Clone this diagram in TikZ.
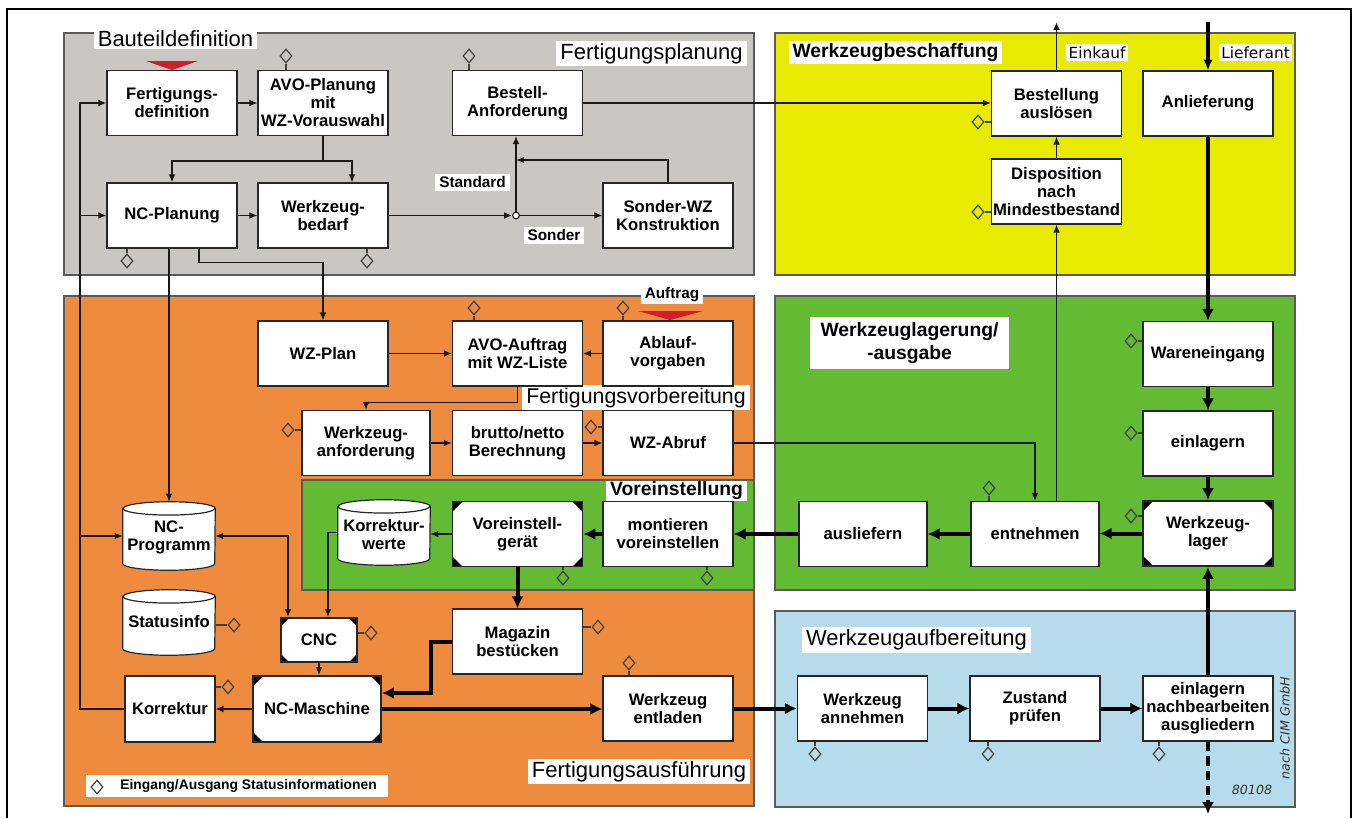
\documentclass[tikz,border=0pt]{standalone}
\usepackage{fontspec}
\setmainfont{Liberation Sans}
\newfontfamily\dejavu{DejaVu Sans}
\usetikzlibrary{arrows.meta,shapes.geometric,calc}
\pgfdeclarelayer{back}
\pgfsetlayers{back,main}
\definecolor{pgray}{RGB}{201,199,196}
\definecolor{pyellow}{RGB}{232,234,0}
\definecolor{porange}{RGB}{238,139,62}
\definecolor{pgreen}{RGB}{98,187,50}
\definecolor{pblue}{RGB}{182,219,234}
\definecolor{tred}{RGB}{210,30,40}
\definecolor{pborder}{RGB}{90,90,90}
\newcommand\octcorners[1]{%
 \fill[black] (path picture bounding box.north west) -- ++(#1,0) -- ++(-#1,-#1) -- cycle;
 \fill[black] (path picture bounding box.north east) -- ++(-#1,0) -- ++(#1,-#1) -- cycle;
 \fill[black] (path picture bounding box.south west) -- ++(#1,0) -- ++(-#1,#1) -- cycle;
 \fill[black] (path picture bounding box.south east) -- ++(-#1,0) -- ++(#1,#1) -- cycle;}
\tikzset{
 panel/.style={draw=pborder, line width=1.1pt},
 ptitle/.style={fill=white, inner xsep=3pt, inner ysep=2pt, font=\fontsize{16.5}{18}\selectfont},
 btitle/.style={fill=white, inner xsep=3pt, inner ysep=2pt, font=\bfseries\fontsize{14.5}{17}\selectfont},
 slabel/.style={fill=white, inner xsep=3pt, inner ysep=2pt, font=\bfseries\fontsize{11.5}{13}\selectfont},
 tlabel/.style={fill=white, inner xsep=2pt, inner ysep=2pt, font=\dejavu\fontsize{11.5}{13}\selectfont},
 pbox/.style={draw=black!85, fill=white, line width=0.9pt, minimum width=97.5pt, minimum height=48.75pt, inner sep=1pt, align=center, font=\bfseries\fontsize{12.5}{13.5}\selectfont},
 octbox/.style={pbox, line width=1.3pt, path picture={\octcorners{#1}}},
 octbox/.default=7.5pt,
 cylbox/.style={minimum width=69pt, minimum height=48.75pt, inner sep=0pt, align=center, font=\bfseries\fontsize{12.5}{13.5}\selectfont},
 cyl/.style={draw=black!85, fill=white, line width=0.9pt},
 dia/.style={diamond, draw=black!75, line width=0.9pt, minimum width=9pt, minimum height=10.5pt, inner sep=0pt},
 stem/.style={draw=black!75, line width=0.8pt},
 thinline/.style={draw=black!90, line width=0.9pt},
 arr/.style={draw=black!90, line width=0.9pt, -{Latex[length=6pt,width=5pt]}},
 arrboth/.style={draw=black!90, line width=0.9pt, {Latex[length=6pt,width=5pt]}-{Latex[length=6pt,width=5pt]}},
 tarr/.style={draw=black, line width=3pt, -{Latex[length=9pt,width=9pt]}},
}
\begin{document}
\begin{tikzpicture}[x=0.75pt,y=-0.75pt]
\useasboundingbox (0,0) rectangle (1356,818);
\draw[line width=1.1pt] (7,818) -- (7,9) -- (1351,9) -- (1351,818);
\begin{pgfonlayer}{back}
 \draw[panel, fill=pgray] (64,33) rectangle (754,275);
 \draw[panel, fill=pyellow] (775,33) rectangle (1295,275);
 \draw[panel, fill=porange] (64,296) rectangle (754,806);
 \draw[panel, fill=pgreen] (775,296) rectangle (1295,590);
 \draw[panel, fill=pblue] (775,611) rectangle (1295,807);
 \draw[panel, fill=pgreen] (302,480) rectangle (754,590);
\end{pgfonlayer}

% titles
\node[ptitle] (tBaut) at (175.5,38.5) {Bauteildefinition};
\node[ptitle] (tFplan) at (651.5,53.5) {Fertigungsplanung};
\node[btitle] (tWbesch) at (895.5,52.5) {Werkzeugbeschaffung};
\node[tlabel] (tEink) at (1097,52.5) {Einkauf};
\node[tlabel] (tLief) at (1255.5,52.5) {Lieferant};
\node[slabel] (tAuftr) at (672,294.5) {Auftrag};
\node[btitle, align=center, inner xsep=8pt, inner ysep=4pt] (tWlag) at (909.5,343) {Werkzeuglagerung/\\-ausgabe};
\node[ptitle, font=\fontsize{16}{18}\selectfont] (tFvor) at (636,397.5) {Fertigungsvorbereitung};
\node[btitle, inner ysep=1pt] (tVor) at (676.5,491) {Voreinstellung};
\node[ptitle] (tWauf) at (916.5,640) {Werkzeugaufbereitung};
\node[ptitle] (tFaus) at (639,771.5) {Fertigungsausführung};
\node[slabel] (tStd) at (472.5,182.5) {Standard};
\node[slabel] (tSon) at (554,235.5) {Sonder};

% gray panel boxes
\node[pbox] (fdef) at (172,103) {Fertigungs-\\definition};
\node[pbox] (avop) at (323,103) {AVO-Planung\\mit\\WZ-Vorauswahl};
\node[pbox] (ncp) at (172,215.5) {NC-Planung};
\node[pbox] (wzb) at (323,215.5) {Werkzeug-\\bedarf};
\node[pbox] (bestA) at (517.5,103) {Bestell-\\Anforderung};
\node[pbox] (sond) at (668,215.5) {Sonder-WZ\\Konstruktion};
\node[circle, draw=black!90, fill=white, line width=0.8pt, inner sep=0pt, minimum size=5pt] (jc) at (516,215.5) {};
% yellow
\node[pbox] (bAus) at (1056.5,103.5) {Bestellung\\auslösen};
\node[pbox] (dispo) at (1056.5,191.5) {Disposition\\nach\\Mindestbestand};
\node[pbox] (anl) at (1208,103.5) {Anlieferung};
% orange
\node[pbox] (wzplan) at (323,353.5) {WZ-Plan};
\node[pbox] (avoa) at (517.5,353.5) {AVO-Auftrag\\mit WZ-Liste};
\node[pbox] (abl) at (668,353.5) {Ablauf-\\vorgaben};
\node[pbox, minimum width=96pt] (wzanf) at (366,443) {Werkzeug-\\anforderung};
\node[pbox] (brut) at (517.5,443) {brutto/netto\\Berechnung};
\node[pbox] (abruf) at (668,443) {WZ-Abruf};
\node[cylbox] (korrw) at (384,532.5) {\\[-2pt]Korrektur-\\werte};
\node[octbox] (vg) at (517.5,534) {Voreinstell-\\gerät};
\node[pbox] (mont) at (668,534) {montieren\\voreinstellen};
\node[cylbox, minimum height=51pt] (ncprog) at (169,536) {\\[-2pt]NC-\\Programm};
\node[cylbox] (stat) at (169,622.5) {\\[-6pt]Statusinfo};
\node[octbox=6pt, minimum width=57pt, minimum height=33pt] (cnc) at (319,640) {CNC};
\node[octbox, minimum width=96pt, minimum height=49.5pt] (ncm) at (317,709) {NC-Maschine};
\node[pbox, minimum width=67.5pt, minimum height=49.5pt] (korr) at (170,709) {Korrektur};
\node[pbox] (mag) at (517.5,641.5) {Magazin\\bestücken};
\node[pbox] (entl) at (668,708.5) {Werkzeug\\entladen};
% green
\node[pbox, minimum width=96pt] (ausl) at (863,534) {ausliefern};
\node[pbox, minimum width=96pt] (entn) at (1035,534) {entnehmen};
\node[octbox] (wlag) at (1208,533.5) {Werkzeug-\\lager};
\node[pbox] (ware) at (1208,354) {Wareneingang};
\node[pbox] (einl) at (1208,443.5) {einlagern};
% blue
\node[pbox] (ann) at (862.5,708.5) {Werkzeug\\annehmen};
\node[pbox] (zust) at (1035,708.5) {Zustand\\prüfen};
\node[pbox] (einl3) at (1208,708.5) {einlagern\\nachbearbeiten\\ausgliedern};

% cylinders
\begin{pgfonlayer}{back}
 \foreach \n in {ncprog,stat,korrw}{
  \draw[cyl] ([yshift=-5pt]\n.north west) -- ([yshift=5pt]\n.south west)
     arc[start angle=180,end angle=360,x radius=34.5pt,y radius=5pt]
     -- ([yshift=-5pt]\n.north east)
     arc[start angle=0,end angle=180,x radius=34.5pt,y radius=5pt] -- cycle;
  \draw[cyl, fill=none] ([yshift=-5pt]\n.north west) arc[start angle=180,end angle=360,x radius=34.5pt,y radius=5pt];
 }
\end{pgfonlayer}

% red triangles
\fill[tred] (146,61) -- (198,61) -- (172,70) -- cycle;
\fill[tred] (638,311) -- (703,311) -- (670,320) -- cycle;

% diamonds and stems
\node[dia] (dAvop) at (286,56) {};   \draw[stem] (dAvop.south) -- (dAvop.south |- avop.north);
\node[dia] (dBestA) at (469,56) {};  \draw[stem] (dBestA.south) -- (dBestA.south |- bestA.north);
\node[dia] (dNcp) at (127,261) {};   \draw[stem] (dNcp.north) -- (dNcp.north |- ncp.south);
\node[dia] (dWzb) at (367,261) {};   \draw[stem] (dWzb.north) -- (dWzb.north |- wzb.south);
\node[dia] (dBAus) at (978,122) {};  \draw[stem] (dBAus.east) -- (dBAus.east -| bAus.west);
\node[dia] (dDispo) at (978,212) {}; \draw[stem] (dDispo.east) -- (dDispo.east -| dispo.west);
\node[dia] (dAvoa) at (474,308) {};  \draw[stem] (dAvoa.south) -- (dAvoa.south |- avoa.north);
\node[dia] (dAbl) at (623,308) {};   \draw[stem] (dAbl.south) -- (dAbl.south |- abl.north);
\node[dia] (dWzanf) at (288,430) {}; \draw[stem] (dWzanf.east) -- (dWzanf.east -| wzanf.west);
\node[dia] (dAbruf) at (591,427) {}; \draw[stem] (dAbruf.east) -- (dAbruf.east -| abruf.west);
\node[dia] (dVg) at (563,578) {};    \draw[stem] (dVg.north) -- (dVg.north |- vg.south);
\node[dia] (dMont) at (707,578) {};  \draw[stem] (dMont.north) -- (dMont.north |- mont.south);
\node[dia] (dStat) at (234,625) {};  \draw[stem] (dStat.west) -- (dStat.west -| stat.east);
\node[dia] (dCnc) at (371,633) {};   \draw[stem] (dCnc.west) -- (dCnc.west -| cnc.east);
\node[dia] (dKorr) at (228,687) {};  \draw[stem] (dKorr.west) -- (dKorr.west -| korr.east);
\node[dia] (dMag) at (598,627) {};   \draw[stem] (dMag.west) -- (dMag.west -| mag.east);
\node[dia] (dEntl) at (629,663) {};  \draw[stem] (dEntl.south) -- (dEntl.south |- entl.north);
\node[dia] (dEntn) at (989,488) {};  \draw[stem] (dEntn.south) -- (dEntn.south |- entn.north);
\node[dia] (dWare) at (1131,341) {}; \draw[stem] (dWare.east) -- (dWare.east -| ware.west);
\node[dia] (dEinl) at (1131,433) {}; \draw[stem] (dEinl.east) -- (dEinl.east -| einl.west);
\node[dia] (dWlag) at (1131,516) {}; \draw[stem] (dWlag.east) -- (dWlag.east -| wlag.west);
\node[dia] (dAnn) at (815,754) {};   \draw[stem] (dAnn.north) -- (dAnn.north |- ann.south);
\node[dia] (dZust) at (988,754) {};  \draw[stem] (dZust.north) -- (dZust.north |- zust.south);
\node[dia] (dEinl3) at (1159,754) {}; \draw[stem] (dEinl3.north) -- (dEinl3.north |- einl3.south);

% legend
\node[fill=white, minimum width=226.5pt, minimum height=16.5pt, inner sep=0pt] (legend) at (237,786) {};
\node[dia] (lDia) at (97,787) {};
\node[anchor=west, inner sep=0pt, font=\bfseries\fontsize{10.4}{12}\selectfont] (lText) at (120,786) {Eingang/Ausgang Statusinformationen};
\node[rotate=90, inner sep=0pt, text=black!80, font=\dejavu\itshape\fontsize{9.5}{11}\selectfont] (cim) at (1285,728) {nach CIM GmbH};
\node[inner sep=0pt, text=black!80, font=\dejavu\itshape\fontsize{9.5}{11}\selectfont] (num) at (1252,790) {80108};

% coordinates
\coordinate (j1) at (323,161);
\coordinate (jS) at (516,160);
\coordinate (fb) at (80,709);
\coordinate (einkEnd) at (1056.5,22);
\coordinate (liefStart) at (1208,22);
\coordinate (dashEnd) at (1208,814);

% thin connectors - gray
\draw[arr] (fdef.east) -- (avop.west);
\draw[thinline] (avop.south) -- (j1);
\draw[arr] (j1) -| (ncp.north);
\draw[arr] (j1) -| ($(wzb.north)+(29,0)$);
\draw[arr] (ncp.east) -- (wzb.west);
\draw[arr] (wzb.east) -- (jc.west);
\draw[arr] (jc.east) -- (sond.west);
\draw[arr] (jc.north) -- (jc.north |- bestA.south);
\draw[arr] (sond.north) |- (jS);
\draw[arr] (bestA.east) -- (bestA.east -| bAus.west);
% yellow
\draw[arr] (dispo.north) -- (bAus.south);
\draw[arr, line width=1.2pt] (bAus.north) -- (einkEnd);
\draw[tarr, line width=2.5pt, -{Latex[length=8pt,width=7pt]}] (liefStart) -- (anl.north);
% feedback and NC program
\draw[arr] (korr.west) -- (fb) |- (fdef.west);
\draw[arr] (fb |- ncp.west) -- (ncp.west);
\draw[arr] (fb |- ncprog.west) -- (ncprog.west);
\draw[arr] (ncp.south -| 169,0) -- (ncprog.north);
\draw[arr] ($(ncp.south)+(27,0)$) -- ++(0,14) -| (wzplan.north);
\draw[arrboth] (ncprog.east) -| ($(cnc.north)+(-31,0)$);
\draw[arr] (korrw.west) -| ($(cnc.north)+(9,0)$);
\draw[arr] (cnc.south) -- (cnc.south |- ncm.north);
\draw[arr] (ncm.west) -- (korr.east);
% orange thin
\draw[arr] (wzplan.east) -- (avoa.west);
\draw[arr] (abl.west) -- (avoa.east);
\draw[arr] (avoa.south) -- ++(0,16) -| (wzanf.north);
\draw[arr] (wzanf.east) -- (brut.west);
\draw[arr] (brut.east) -- (abruf.west);
\draw[arr] (abruf.east) -| (entn.north);
\draw[arr] (vg.west) -- (vg.west -| korrw.east);
\draw[arr] (dispo.south |- entn.north) -- (dispo.south);
% thick material flow
\draw[tarr] (anl.south) -- (ware.north);
\draw[tarr] (ware.south) -- (einl.north);
\draw[tarr] (einl.south) -- (wlag.north);
\draw[tarr] (wlag.west) -- (wlag.west -| entn.east);
\draw[tarr] (entn.west) -- (entn.west -| ausl.east);
\draw[tarr] (ausl.west) -- (ausl.west -| mont.east);
\draw[tarr] (mont.west) -- (vg.east);
\draw[tarr] (vg.south) -- (vg.south |- mag.north);
\draw[tarr] (mag.west) -- ++(-21,0) |- ($(ncm.east)+(0,-16)$);
\draw[tarr] (ncm.east) -- (ncm.east -| entl.west);
\draw[tarr] (entl.east) -- (entl.east -| ann.west);
\draw[tarr] (ann.east) -- (zust.west);
\draw[tarr] (zust.east) -- (einl3.west);
\draw[tarr] (einl3.north) -- (wlag.south);
\draw[tarr, dash pattern=on 7pt off 4pt] (einl3.south) -- (dashEnd);
\end{tikzpicture}
\end{document}
